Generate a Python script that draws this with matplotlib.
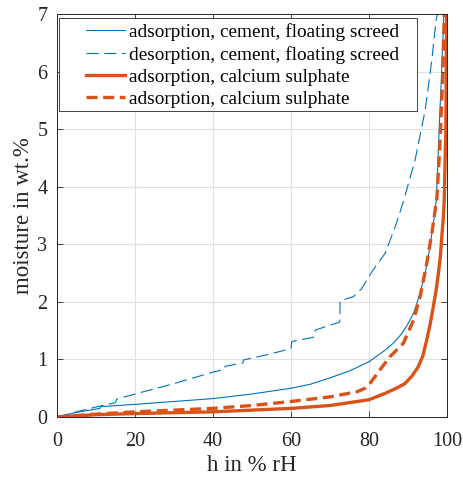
import matplotlib
matplotlib.use("Agg")
import matplotlib.pyplot as plt
from matplotlib.patches import Rectangle

# Sorption isotherms: relative humidity (% rH) vs. moisture content (wt.%)
cem_ads_h = [0, 5, 11, 11.2, 20, 30, 40, 50, 60, 65, 70, 75, 80, 84.1, 86.5, 88.4,
             90, 91.4, 92.5, 93.5, 94.4, 95.2, 96.5, 97.3, 98.0, 98.5, 98.9, 99.2]
cem_ads_m = [0, 0.08, 0.15, 0.18, 0.22, 0.27, 0.32, 0.40, 0.50, 0.57, 0.68, 0.80,
             0.96, 1.16, 1.30, 1.45, 1.62, 1.80, 2.02, 2.26, 2.50, 2.78, 3.36, 3.8,
             5.04, 5.8, 6.5, 7.0]

cem_des_h = [0, 5, 11, 15, 15.3, 20, 30, 40, 43, 43.1, 47.7, 47.8, 55, 60, 60.2,
             66, 66.2, 72.5, 72.6, 76, 78, 81, 84.1, 86.7, 88.8, 91.8, 94.4, 96.1,
             97.2, 97.6]
cem_des_m = [0, 0.09, 0.19, 0.25, 0.31, 0.40, 0.58, 0.78, 0.83, 0.88, 0.94, 0.99,
             1.10, 1.19, 1.31, 1.39, 1.51, 1.65, 2.02, 2.09, 2.22, 2.55, 2.84, 3.3,
             3.74, 4.46, 5.33, 6.2, 6.9, 7.0]

cas_ads_h = [0, 10, 20, 40, 60, 70, 80, 84.1, 87, 89.2, 91, 92.6, 93.8, 94.8, 95.7,
             96.5, 97.2, 97.8, 98.3, 98.6, 99.1, 99.3, 99.7, 99.9]
cas_ads_m = [0, 0.04, 0.06, 0.09, 0.15, 0.2, 0.3, 0.41, 0.5, 0.58, 0.71, 0.87, 1.06,
             1.34, 1.62, 1.92, 2.2, 2.5, 2.8, 3.07, 3.5, 3.8, 5.0, 7.0]

cas_2_h = [0, 10, 20, 30, 40, 50, 60, 70, 77, 79, 80, 82.8, 85.4, 88.8, 91.4,
           93.1, 94.8, 96.1, 97.4, 98.2, 98.9, 99.3]
cas_2_m = [0, 0.05, 0.09, 0.12, 0.15, 0.2, 0.27, 0.35, 0.44, 0.5, 0.56, 0.82, 1.05,
           1.28, 1.68, 2.09, 2.67, 3.19, 3.8, 4.76, 5.9, 7.0]

labels = ["adsorption, cement, floating screed",
          "desorption, cement, floating screed",
          "adsorption, calcium sulphate",
          "adsorption, calcium sulphate"]
x_ticks = [0, 20, 40, 60, 80, 100]
y_ticks = [0, 1, 2, 3, 4, 5, 6, 7]

BLUE = "#0072BD"
ORANGE = "#D95319"
DARK = "#262626"

plt.rcParams["font.family"] = ["Liberation Serif", "DejaVu Serif"]

fig = plt.figure(figsize=(4.64, 4.79), dpi=100)
ax = fig.add_axes([0.1228, 0.1294, 0.8406, 0.8414])

ax.plot(cem_ads_h, cem_ads_m, color=BLUE, lw=0.8, label=labels[0])
ax.plot(cem_des_h, cem_des_m, color=BLUE, lw=0.8, dashes=(11, 5), label=labels[1])
ax.plot(cas_ads_h, cas_ads_m, color=ORANGE, lw=2.4, label=labels[2])
ax.plot(cas_2_h, cas_2_m, color=ORANGE, lw=2.4, dashes=(3.3, 1.7), label=labels[3])

ax.set_xlim(0, 100)
ax.set_ylim(0, 7)
ax.set_xticks(x_ticks)
ax.set_yticks(y_ticks)
ax.grid(True, color="#e0e0e0", lw=0.8)
ax.set_axisbelow(True)
ax.tick_params(direction="in", top=True, right=True, labelsize=14.5,
               colors=DARK, length=4, width=0.6)
ax.tick_params(axis="x", pad=11)
ax.tick_params(axis="y", pad=7)
for s in ax.spines.values():
    s.set_color(DARK)
    s.set_linewidth(0.7)

ax.set_xlabel("h in % rH", fontsize=16.5, color=DARK, labelpad=3)
ax.set_ylabel("moisture in wt.%", fontsize=16.5, color=DARK, labelpad=2)

# legend box drawn as a plain white rectangle, entries placed inside it
ax.add_patch(Rectangle((0.005, 0.759), 0.918, 0.231, transform=ax.transAxes,
                       facecolor="white", edgecolor=DARK, lw=0.6, zorder=4))
leg = ax.legend(loc="upper left", bbox_to_anchor=(0.0736, 0.977),
                fontsize=13.85, frameon=False, handlelength=2.03,
                borderaxespad=0, borderpad=0, labelspacing=0.24,
                handletextpad=0.2)
leg.set_zorder(5)

fig.savefig("out.png", dpi=100)
